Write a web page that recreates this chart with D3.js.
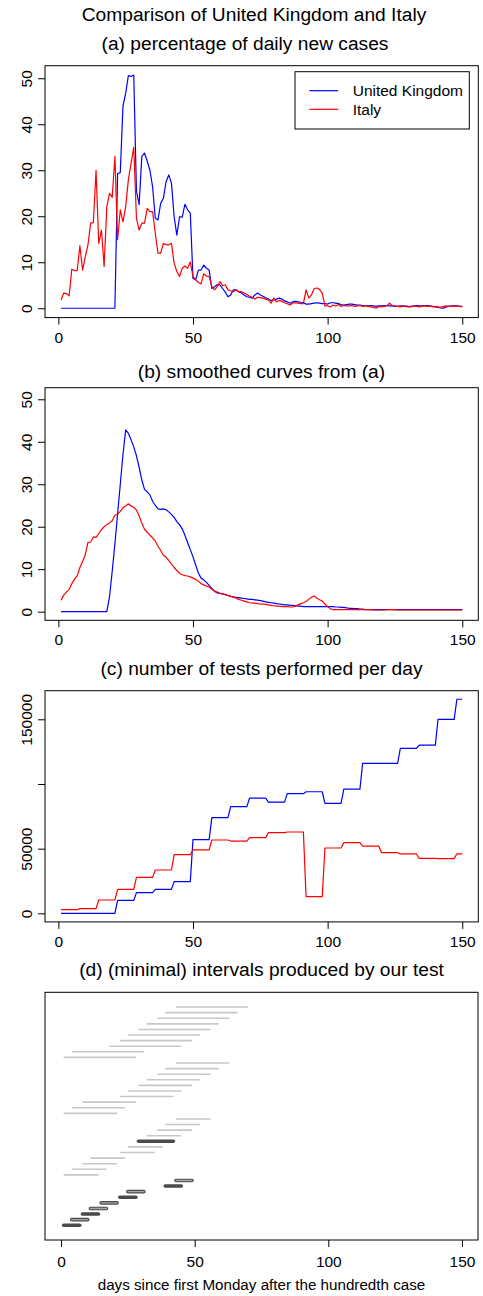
<!DOCTYPE html>
<html><head><meta charset="utf-8">
<script src="https://cdn.jsdelivr.net/npm/d3@7/dist/d3.min.js"></script>
<style>
body{margin:0;background:#fff}
svg{display:block}
text{font-family:"Liberation Sans",Arial,Helvetica,sans-serif;fill:#000}
</style>
</head><body>
<svg id="chart" width="483" height="1296"></svg>
<script>
// ---------------- DATA ----------------
const mainTitle = "Comparison of United Kingdom and Italy";
const panelTitles = ["(a) percentage of daily new cases","(b) smoothed curves from (a)","(c) number of tests performed per day","(d) (minimal) intervals produced by our test"];
const seriesNames = ["United Kingdom","Italy"];
const xLabel = "days since first Monday after the hundredth case";
const xTicks = [0,50,100,150];
const yTicksPct = [0,10,20,30,40,50];
const yTicksTests = [0,50000,100000,150000];
const yTickLabelsTests = ["0","50000","","150000"];

// (a) percentage of daily new cases, day 1..150
const ukDaily = [
0,0,0,0,0,0,0, 0,0,0,0,0,0,0, 0,0,0,0,0,0,0,
29.3,29.5,44,46.7,50.6,50.4,50.7,
25.5,22.5,33,33.7,32,30,26.4,
19.6,19.2,22.8,23.9,27.5,29,27.2,
19.9,15.9,19.9,19.8,22.6,21.4,20.7,
6.5,6.2,8.3,8.3,9.4,8.7,8.3,
4.3,4.7,5.1,5.1,4.3,3.5,2.5,
2.9,4.0,4.0,3.6,3.3,2.9,2.5,
2.4,2.2,2.9,3.3,2.9,2.6,2.3,
2.0,1.7,1.8,2.0,2.2,2.0,1.6,
1.4,1.1,1.4,1.5,1.4,1.3,1.2,
0.9,0.9,1.0,1.1,1.2,1.1,1.0,
1.0,0.9,1.2,1.2,1.1,1.0,0.8,
0.7,0.8,0.9,0.9,0.8,0.7,0.7,
0.6,0.6,0.5,0.6,0.5,0.4,0.5,
0.5,0.6,0.6,0.5,0.5,0.4,0.4,
0.5,0.5,0.4,0.3,0.4,0.5,0.6,
0.5,0.5,0.6,0.6,0.5,0.4,0.3,
0.2,0.1,0.0,0.3,0.4,0.5,0.5,
0.5,0.4,0.4];
const itDaily = [
1.8,3.3,3.2,2.7,8.5,8.2,8.2,
13.6,8.3,11.2,13.8,18.5,18.6,30,
14.1,17,9.1,22.1,25,24.1,33,
14.9,21.4,18.8,22.1,27.9,31.5,35,
19.6,17,18.5,18.5,21.7,21,21,
16.3,12,12,14.1,13.8,13.8,14.1,
9.8,8,6.9,8.7,9.2,8.7,10.1,
6.9,6.2,5.6,5.3,7.5,7.0,6.9,
4.7,4.0,4.7,5.8,4.9,5.1,4.0,
3.8,3.6,4.0,3.6,3.6,3.3,3.0,
2.6,2.4,2.0,2.4,2.3,2.2,2.0,
1.8,1.1,2.2,1.4,1.7,1.5,1.2,
1.0,0.7,1.1,1.2,1.1,1.0,1.0,
4.0,2.2,2.9,4.3,4.4,4.1,3.3,
0.5,0.5,0.3,0.7,0.5,0.8,0.4,
0.6,0.5,0.5,0.6,0.4,0.5,0.6,
0.4,0.5,0.4,0.3,0.2,0.0,0.4,
0.3,0.4,0.5,1.1,0.6,0.5,0.4,
0.3,0.4,0.5,0.4,0.3,0.5,0.4,
0.3,0.4,0.5,0.4,0.5,0.3,0.4,
0.3,0.2,0.4,0.5,0.4,0.5,0.4,
0.5,0.4,0.3];

// (b) smoothed curves
const ukSmooth = [
0,0,0,0,0,0,0, 0,0,0,0,0,0,0, 0,0,0,0,3.5,9.5,16,
23,30,37,42.8,42.0,40.5,38.8,
36.7,34.0,31.0,28.8,28.2,27.5,26.0,
25.0,24.2,24.1,24.2,24.0,23.5,22.9,
22.2,21.2,20.5,19.5,18.0,16.3,14.6,
12.9,11.0,9.1,7.9,7.5,6.9,6.2,
5.5,4.8,4.4,4.3,4.2,4.0,3.8,
3.6,3.5,3.4,3.3,3.2,3.1,3.0,
2.9,2.9,2.8,2.7,2.6,2.5,2.3,
2.2,2.1,2.0,1.9,1.8,1.7,1.6,
1.6,1.5,1.5,1.4,1.3,1.3,1.2,
1.2,1.2,1.2,1.2,1.2,1.2,1.2,
1.2,1.2,1.2,1.2,1.1,1.1,1.0,
1.0,0.9,0.8,0.8,0.7,0.7,0.6,
0.6,0.5,0.5,0.5,0.5,0.5,0.5,
0.5,0.5,0.5,0.5,0.5,0.5,0.5,
0.5,0.5,0.5,0.5,0.5,0.5,0.5,
0.5,0.5,0.5,0.5,0.5,0.5,0.5,
0.5,0.5,0.5,0.5,0.5,0.5,0.5,
0.5,0.5,0.5];
const itSmooth = [
2.7,3.9,4.6,5.2,6.6,7.6,8.5,
10.4,11.8,13.4,16.3,16.4,17.6,17.5,
18.4,19.3,20.0,20.5,20.9,21.4,22.7,
23.0,23.6,24.5,24.9,25.4,24.9,24.6,
23.9,22.6,20.8,19.4,18.7,18.0,17.4,
16.6,15.4,14.4,13.3,12.8,12.1,11.2,
10.4,9.7,9.0,8.7,8.5,8.4,8.2,
7.9,7.6,7.2,6.6,6.3,6.0,5.8,
5.3,4.9,4.6,4.3,4.2,4.0,3.8,
3.6,3.4,3.2,2.9,2.7,2.5,2.3,
2.1,2.0,2.0,1.9,1.8,1.8,1.7,
1.6,1.5,1.4,1.3,1.3,1.2,1.2,
1.2,1.1,1.1,1.3,1.6,1.9,2.1,
2.4,2.9,3.4,3.7,3.2,2.8,2.5,
1.8,1.2,0.7,0.5,0.5,0.5,0.5,
0.5,0.5,0.5,0.5,0.5,0.5,0.5,
0.5,0.5,0.5,0.5,0.4,0.4,0.4,
0.4,0.4,0.5,0.5,0.5,0.5,0.4,
0.4,0.4,0.4,0.4,0.4,0.4,0.4,
0.4,0.4,0.4,0.4,0.4,0.4,0.4,
0.4,0.4,0.4,0.4,0.4,0.4,0.4,
0.4,0.4,0.4];

// (c) tests performed per day
const ukTests = [
0,0,0,0,0,0,0, 0,0,0,0,0,0,0, 0,0,0,0,0,0,0,
10000,10000,10000,10000,10000,10000,10000,
16000,16000,16000,16000,16000,16000,16000,
18500,18500,18500,18500,18500,18500,18500,
24500,24500,24500,24500,24500,24500,24500,
57000,57000,57000,57000,57000,57000,57000,
74000,74000,74000,74000,74000,74000,74000,
82500,82500,82500,82500,82500,82500,82500,
89000,89000,89000,89000,89000,89000,89000,
86000,86000,86000,86000,86000,86000,86000,
92500,92500,92500,92500,92500,92500,92500,
94000,94000,94000,94000,94000,94000,94000,
85000,85000,85000,85000,85000,85000,85000,
96000,96000,96000,96000,96000,96000,96000,
116000,116000,116000,116000,116000,116000,116000,
116000,116000,116000,116000,116000,116000,116000,
127500,127500,127500,127500,127500,127500,127500,
130000,130000,130000,130000,130000,130000,130000,
150000,150000,150000,150000,150000,150000,150000,
165500,165500,165500];
const itTests = [
2800,2800,2800,2800,2800,2800,2800,
3600,3600,3600,3600,3600,3600,3600,
10300,10300,10300,10300,10300,10300,10300,
18600,18600,18600,18600,18600,18600,18600,
27800,27800,27800,27800,27800,27800,27800,
33500,33500,33500,33500,33500,33500,33500,
45400,45400,45400,45400,45400,45400,45400,
49000,49000,49000,49000,49000,49000,49000,
56700,56700,56700,56700,56700,56700,56700,
55900,55900,55900,55900,55900,55900,55900,
58500,58500,58500,58500,58500,58500,58500,
62400,62400,62400,62400,62400,62400,62400,
62900,62900,62900,62900,62900,62900,62900,
12900,12900,12900,12900,12900,12900,12900,
50500,50500,50500,50500,50500,50500,50500,
54600,54600,54600,54600,54600,54600,54600,
52000,52000,52000,52000,52000,52000,52000,
46900,46900,46900,46900,46900,46900,46900,
45900,45900,45900,45900,45900,45900,45900,
42500,42500,42500,42500,42500,42500,42500,
42300,42300,42300,42300,42300,42300,42300,
45900,45900,45900];

// (d) intervals, listed from the top row downwards
const intervalStart = [
43,39,36,32,29,25,22,18,4,1,
43,39,36,32,29,25,22,8,4,1,
43,39,36,32,29,25,22,11,8,4,1,
43,39,25,22,15,11,8,4,1];
const intervalLength = [
27,27,27,27,27,27,27,27,27,27,
20,20,20,20,20,20,20,20,20,20,
13,13,13,13,13,13,13,13,13,13,13,
6,6,6,6,6,6,6,6,6];
const intervalType = [
"plain","plain","plain","plain","plain","plain","plain","plain","plain","plain",
"plain","plain","plain","plain","plain","plain","plain","plain","plain","plain",
"plain","plain","plain","plain","solid","plain","plain","plain","plain","plain","plain",
"open","solid","open","solid","open","open","solid","open","solid"];

// ---------------- DRAWING ----------------
const svg = d3.select("#chart");
const FS = 15.5, TFS = 19.2;
const BLUE = "#0000ff", RED = "#ff0000";
const days = ukDaily.map((_, i) => i + 1);

const xMain = d3.scaleLinear().domain([-4.96, 155.96]).range([45, 478.3]);
const xD = d3.scaleLinear().domain([-6, 156]).range([45, 478]);

svg.append("text").attr("x", 254).attr("y", 21).attr("text-anchor", "middle")
  .attr("font-size", TFS).text(mainTitle);

function frame(x0, x1, top, bottom) {
  svg.append("rect").attr("x", x0).attr("y", top).attr("width", x1 - x0).attr("height", bottom - top)
    .attr("fill", "none").attr("stroke", "#000").attr("stroke-width", 1);
}
function title(i, cx, baseline) {
  svg.append("text").attr("x", cx).attr("y", baseline).attr("text-anchor", "middle")
    .attr("font-size", TFS).text(panelTitles[i]);
}
function xAxis(x, bottom, pad) {
  const g = svg.append("g").attr("transform", `translate(0,${bottom})`)
    .call(d3.axisBottom(x).tickValues(xTicks).tickSize(7).tickPadding(pad).tickFormat(d3.format("d")));
  g.select(".domain").remove();
  g.selectAll("line").attr("stroke", "#000");
  g.selectAll("text").attr("font-size", FS).attr("font-family", null);
}
function yAxis(y, ticks, labels) {
  const g = svg.append("g").attr("transform", "translate(45,0)")
    .call(d3.axisLeft(y).tickValues(ticks).tickSize(7).tickFormat((d, i) => labels[i]));
  g.select(".domain").remove();
  g.selectAll("line").attr("stroke", "#000");
  g.selectAll("text").attr("font-size", FS).attr("font-family", null)
    .attr("x", 0).attr("dy", 0).attr("text-anchor", "middle")
    .attr("transform", "translate(-13.3,0) rotate(-90)");
}
function line(x, y, vals, color) {
  svg.append("path").datum(vals)
    .attr("d", d3.line().x((d, i) => x(days[i])).y(d => y(d)))
    .attr("fill", "none").attr("stroke", color).attr("stroke-width", 1.2)
    .attr("stroke-linejoin", "round");
}

// panel (a)
{
  const top = 65.7, bottom = 317.6;
  const y = d3.scaleLinear().domain([-2.03, 52.73]).range([bottom, top]);
  title(0, 245, 50);
  line(xMain, y, ukDaily, BLUE);
  line(xMain, y, itDaily, RED);
  frame(45, 478.3, top, bottom);
  xAxis(xMain, bottom, 7);
  yAxis(y, yTicksPct, yTicksPct.map(String));
  // legend
  const lg = svg.append("g");
  lg.append("rect").attr("x", 295).attr("y", 71.7).attr("width", 174.3).attr("height", 57.3)
    .attr("fill", "#fff").attr("stroke", "#000").attr("stroke-width", 1);
  [BLUE, RED].forEach((c, i) => {
    const yy = 90.7 + i * 18.6;
    lg.append("line").attr("x1", 309.3).attr("x2", 338.3).attr("y1", yy).attr("y2", yy)
      .attr("stroke", c).attr("stroke-width", 1.2);
    lg.append("text").attr("x", 352.7).attr("y", yy + 5.5).attr("font-size", FS).text(seriesNames[i]);
  });
}
// panel (b)
{
  const top = 387.7, bottom = 620.3;
  const y = d3.scaleLinear().domain([-2.03, 52.73]).range([bottom, top]);
  title(1, 261.5, top - 10);
  line(xMain, y, ukSmooth, BLUE);
  line(xMain, y, itSmooth, RED);
  frame(45, 478.3, top, bottom);
  xAxis(xMain, bottom, 7);
  yAxis(y, yTicksPct, yTicksPct.map(String));
}
// panel (c)
{
  const top = 690.7, bottom = 921.9;
  const y = d3.scaleLinear().domain([-6620, 172120]).range([bottom, top]);
  title(2, 261.5, top - 16);
  line(xMain, y, ukTests, BLUE);
  line(xMain, y, itTests, RED);
  frame(45, 478.3, top, bottom);
  xAxis(xMain, bottom, 7);
  yAxis(y, yTicksTests, yTickLabelsTests);
}
// panel (d)
{
  const top = 992.3, bottom = 1240;
  const y = d3.scaleLinear().domain([-1.64, 42.64]).range([bottom, top]);
  title(3, 261.5, top - 16);
  const n = intervalStart.length;
  const rows = intervalStart.map((s, i) => ({ s, e: s + intervalLength[i], row: n - i, t: intervalType[i] }));
  const g = svg.append("g");
  g.selectAll("line.plain").data(rows.filter(r => r.t === "plain")).join("line")
    .attr("x1", r => xD(r.s)).attr("x2", r => xD(r.e))
    .attr("y1", r => y(r.row)).attr("y2", r => y(r.row))
    .attr("stroke", "#c8c8c8").attr("stroke-width", 1.6);
  const strong = rows.filter(r => r.t !== "plain");
  g.selectAll("line.outer").data(strong).join("line")
    .attr("x1", r => xD(r.s)).attr("x2", r => xD(r.e))
    .attr("y1", r => y(r.row)).attr("y2", r => y(r.row))
    .attr("stroke", "#4a4a4a").attr("stroke-width", 3.6).attr("stroke-linecap", "round");
  g.selectAll("line.inner").data(strong.filter(r => r.t === "open")).join("line")
    .attr("x1", r => xD(r.s)).attr("x2", r => xD(r.e))
    .attr("y1", r => y(r.row)).attr("y2", r => y(r.row))
    .attr("stroke", "#a8a8a8").attr("stroke-width", 1.4).attr("stroke-linecap", "round");
  frame(45, 478, top, bottom);
  xAxis(xD, bottom, 9);
  svg.append("text").attr("x", 261.5).attr("y", 1290).attr("text-anchor", "middle")
    .attr("font-size", FS * 0.98).text(xLabel);
}
</script>
</body></html>
